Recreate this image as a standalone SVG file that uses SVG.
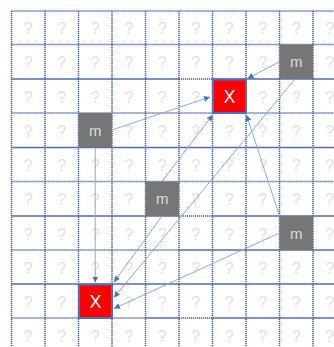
<svg xmlns="http://www.w3.org/2000/svg" width="334" height="347" viewBox="0 0 334 347">
<style>
.s{stroke:#4d6db0;stroke-width:1.6;fill:none}
.d{stroke:#3d5c9e;stroke-width:1.5;fill:none;stroke-dasharray:1.2 0.8}
.q{font-family:"Liberation Sans",Arial,sans-serif;font-size:16px;fill:#dde2ea;text-anchor:middle}
.mb{fill:#767676}
.mt{font-family:"Liberation Sans",Arial,sans-serif;font-size:15px;fill:#dedede;text-anchor:middle}
.xb{fill:#ff0000;stroke:#4472c4;stroke-width:2}
.xt{font-family:"Liberation Sans",Arial,sans-serif;font-size:18px;fill:#ffffff;text-anchor:middle}
.c{stroke:#8eaadb;stroke-width:1;fill:none;marker-end:url(#ah)}
</style>
<defs>
<marker id="ah" markerUnits="userSpaceOnUse" markerWidth="7" markerHeight="7" refX="6" refY="3" orient="auto">
<path d="M0,0 L6,3 L0,6 z" fill="#4472c4"/>
</marker>
</defs>
<rect width="334" height="347" fill="#ffffff"/>
<g id="grid-text">
<text class="q" x="28.25" y="34">?</text><text class="q" x="61.75" y="34">?</text><text class="q" x="95.25" y="34">?</text><text class="q" x="128.75" y="34">?</text><text class="q" x="162.25" y="34">?</text><text class="q" x="195.75" y="34">?</text><text class="q" x="229.25" y="34">?</text><text class="q" x="262.75" y="34">?</text><text class="q" x="296.25" y="34">?</text><text class="q" x="329.75" y="34">?</text>
<text class="q" x="28.25" y="68">?</text><text class="q" x="61.75" y="68">?</text><text class="q" x="95.25" y="68">?</text><text class="q" x="128.75" y="68">?</text><text class="q" x="162.25" y="68">?</text><text class="q" x="195.75" y="68">?</text><text class="q" x="229.25" y="68">?</text><text class="q" x="262.75" y="68">?</text><text class="q" x="329.75" y="68">?</text>
<text class="q" x="28.25" y="102.5">?</text><text class="q" x="61.75" y="102.5">?</text><text class="q" x="95.25" y="102.5">?</text><text class="q" x="128.75" y="102.5">?</text><text class="q" x="162.25" y="102.5">?</text><text class="q" x="195.75" y="102.5">?</text><text class="q" x="262.75" y="102.5">?</text><text class="q" x="296.25" y="102.5">?</text><text class="q" x="329.75" y="102.5">?</text>
<text class="q" x="28.25" y="136.5">?</text><text class="q" x="61.75" y="136.5">?</text><text class="q" x="128.75" y="136.5">?</text><text class="q" x="162.25" y="136.5">?</text><text class="q" x="195.75" y="136.5">?</text><text class="q" x="229.25" y="136.5">?</text><text class="q" x="262.75" y="136.5">?</text><text class="q" x="296.25" y="136.5">?</text><text class="q" x="329.75" y="136.5">?</text>
<text class="q" x="28.25" y="171">?</text><text class="q" x="61.75" y="171">?</text><text class="q" x="95.25" y="171">?</text><text class="q" x="128.75" y="171">?</text><text class="q" x="162.25" y="171">?</text><text class="q" x="195.75" y="171">?</text><text class="q" x="229.25" y="171">?</text><text class="q" x="262.75" y="171">?</text><text class="q" x="296.25" y="171">?</text><text class="q" x="329.75" y="171">?</text>
<text class="q" x="28.25" y="205">?</text><text class="q" x="61.75" y="205">?</text><text class="q" x="95.25" y="205">?</text><text class="q" x="128.75" y="205">?</text><text class="q" x="195.75" y="205">?</text><text class="q" x="229.25" y="205">?</text><text class="q" x="262.75" y="205">?</text><text class="q" x="296.25" y="205">?</text><text class="q" x="329.75" y="205">?</text>
<text class="q" x="28.25" y="239.5">?</text><text class="q" x="61.75" y="239.5">?</text><text class="q" x="95.25" y="239.5">?</text><text class="q" x="128.75" y="239.5">?</text><text class="q" x="162.25" y="239.5">?</text><text class="q" x="195.75" y="239.5">?</text><text class="q" x="229.25" y="239.5">?</text><text class="q" x="262.75" y="239.5">?</text><text class="q" x="329.75" y="239.5">?</text>
<text class="q" x="28.25" y="273.5">?</text><text class="q" x="61.75" y="273.5">?</text><text class="q" x="95.25" y="273.5">?</text><text class="q" x="128.75" y="273.5">?</text><text class="q" x="162.25" y="273.5">?</text><text class="q" x="195.75" y="273.5">?</text><text class="q" x="229.25" y="273.5">?</text><text class="q" x="262.75" y="273.5">?</text><text class="q" x="296.25" y="273.5">?</text><text class="q" x="329.75" y="273.5">?</text>
<text class="q" x="28.25" y="307.5">?</text><text class="q" x="61.75" y="307.5">?</text><text class="q" x="128.75" y="307.5">?</text><text class="q" x="162.25" y="307.5">?</text><text class="q" x="195.75" y="307.5">?</text><text class="q" x="229.25" y="307.5">?</text><text class="q" x="262.75" y="307.5">?</text><text class="q" x="296.25" y="307.5">?</text><text class="q" x="329.75" y="307.5">?</text>
<text class="q" x="28.25" y="341.5">?</text><text class="q" x="61.75" y="341.5">?</text><text class="q" x="95.25" y="341.5">?</text><text class="q" x="128.75" y="341.5">?</text><text class="q" x="162.25" y="341.5">?</text><text class="q" x="195.75" y="341.5">?</text><text class="q" x="229.25" y="341.5">?</text><text class="q" x="262.75" y="341.5">?</text><text class="q" x="296.25" y="341.5">?</text><text class="q" x="329.75" y="341.5">?</text>
</g>
<g id="grid-lines">
<path class="d" d="M11.5,11 V352 M45,11 V352 M78.5,11 V352 M112,11 V352 M145.5,11 V352 M179,11 V352 M212.5,11 V352 M246,11 V352 M279.5,11 V352 M313,11 V352"/>
<path class="d" d="M11.5,11 H346 M11.5,44.5 H346 M11.5,113 H346 M11.5,181.5 H346 M11.5,250 H179 M11.5,318 H145.5 M179,79 H212.5 M179,216 H212.5 M179,318 H212.5"/>
<path class="s" d="M11.5,79 H179 M212.5,79 H346 M11.5,147.5 H346 M11.5,216 H179 M212.5,216 H346 M179,250 H346 M11.5,284 H346 M145.5,318 H179 M212.5,318 H346"/>
</g>
<g id="connectors">
<path class="c" d="M112,130 L210,97"/>
<path class="c" d="M279,62 L247.5,78.5"/>
<path class="c" d="M162,181.5 L212.5,115"/>
<path class="c" d="M279.5,216 L246.5,115"/>
<path class="c" d="M95.25,147.5 L95.25,282.5"/>
<path class="c" d="M162,216 L114,282"/>
<path class="c" d="M295,79 L114,297.5"/>
<path class="c" d="M279.5,233 L114,308.5"/>
</g>
<g id="m1"><rect class="mb" x="78.5" y="113" width="33.5" height="34.5"/><text class="mt" x="95.25" y="135.5">m</text></g>
<g id="m2"><rect class="mb" x="145.5" y="181.5" width="33.5" height="34.5"/><text class="mt" x="162.25" y="204">m</text></g>
<g id="m3"><rect class="mb" x="279.5" y="44.5" width="33.5" height="34.5"/><text class="mt" x="296.25" y="67">m</text></g>
<g id="m4"><rect class="mb" x="279.5" y="216" width="33.5" height="34"/><text class="mt" x="296.25" y="238.5">m</text></g>
<g id="x1"><rect class="xb" x="213" y="79.5" width="33" height="33.5"/><text class="xt" x="229.5" y="103">X</text></g>
<g id="x2"><rect class="xb" x="79" y="284.5" width="33" height="33.5"/><text class="xt" x="95.5" y="308">X</text></g>
</svg>
